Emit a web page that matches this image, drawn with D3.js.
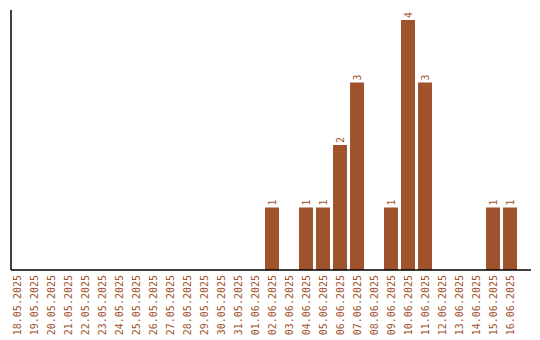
<!DOCTYPE html>
<html>
<head>
<meta charset="utf-8">
<script src="https://cdn.jsdelivr.net/npm/d3@7"></script>
<style>
  body { margin: 0; background: #fff; }
  svg text { font-family: "DejaVu Sans Mono", monospace; font-size: 10px; }
</style>
</head>
<body>
<div id="chart"></div>
<script>
const dates = [
  "18.05.2025", "19.05.2025", "20.05.2025", "21.05.2025", "22.05.2025",
  "23.05.2025", "24.05.2025", "25.05.2025", "26.05.2025", "27.05.2025",
  "28.05.2025", "29.05.2025", "30.05.2025", "31.05.2025", "01.06.2025",
  "02.06.2025", "03.06.2025", "04.06.2025", "05.06.2025", "06.06.2025",
  "07.06.2025", "08.06.2025", "09.06.2025", "10.06.2025", "11.06.2025",
  "12.06.2025", "13.06.2025", "14.06.2025", "15.06.2025", "16.06.2025",
];
const counts = [
  0, 0, 0, 0, 0, 0, 0, 0, 0, 0,
  0, 0, 0, 0, 0, 1, 0, 1, 1, 2,
  3, 0, 1, 4, 3, 0, 0, 0, 1, 1,
];

const color = "#a0522d";
const width = 540, height = 340;
const margin = { top: 10, right: 9, bottom: 70, left: 11 };
const innerW = width - margin.left - margin.right;
const innerH = height - margin.top - margin.bottom;

const svg = d3.select("#chart").append("svg")
  .attr("width", width).attr("height", height);
const g = svg.append("g").attr("transform", `translate(${margin.left},${margin.top})`);

const x = d3.scaleBand().domain(dates).range([-2.5, 507.5]).paddingInner(0.18).paddingOuter(0.09);
const y = d3.scaleLinear().domain([0, 4.16]).range([innerH, 0]);

const rows = dates.map((d, i) => ({ date: d, count: counts[i] }));

// bars
g.selectAll(".bar")
  .data(rows.filter((d) => d.count > 0))
  .join("rect")
  .attr("class", "bar")
  .attr("x", (d) => x(d.date))
  .attr("width", x.bandwidth())
  .attr("y", (d) => y(d.count))
  .attr("height", (d) => y(0) - y(d.count))
  .attr("fill", color);

// value labels, rotated above bars
g.selectAll(".val")
  .data(rows.filter((d) => d.count > 0))
  .join("text")
  .attr("class", "val")
  .attr("transform", (d) => `translate(${x(d.date) + x.bandwidth() / 2},${y(d.count) - 2}) rotate(-90)`)
  .attr("dy", "0.35em")
  .attr("text-anchor", "start")
  .attr("fill", color)
  .text((d) => d.count);

// x axis
g.append("g")
  .attr("transform", `translate(0,${innerH})`)
  .call(d3.axisBottom(x).tickSize(0).tickPadding(0))
  .call((a) => a.select(".domain").attr("d", `M0,0H${innerW}`).attr("stroke", "#000").attr("stroke-width", 1.5))
  .call((a) => a.selectAll(".tick text")
    .attr("transform", "rotate(-90)")
    .attr("text-anchor", "end")
    .attr("x", -5)
    .attr("y", 0)
    .attr("dy", "0.35em")
    .attr("fill", color)
    .style("font-family", "DejaVu Sans Mono, monospace")
    .style("font-size", "10px"));

// y axis (line only)
g.append("g")
  .call(d3.axisLeft(y).ticks(0).tickSize(0))
  .call((a) => a.select(".domain").attr("d", `M0,${innerH}V0`).attr("stroke", "#000").attr("stroke-width", 1.5));
</script>
</body>
</html>
